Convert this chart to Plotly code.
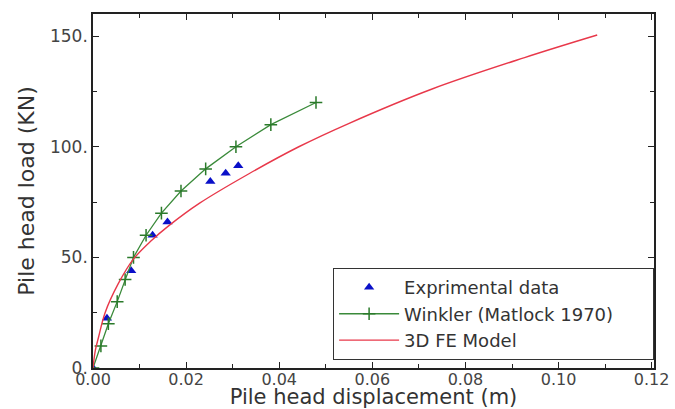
import plotly.graph_objects as go

# Experimental data (blue triangles)
exp_x = [0.0, 0.0030, 0.0082, 0.0128, 0.0160, 0.0252, 0.0285, 0.0312]
exp_y = [0.0, 22.5, 44.0, 60.0, 66.0, 84.3, 88.0, 91.4]

# Winkler (Matlock 1970)
wink_x = [0.0, 0.0017, 0.0033, 0.0052, 0.0069, 0.0087, 0.0114, 0.0147,
          0.0189, 0.0242, 0.0307, 0.0382, 0.0479]
wink_y = [0, 10, 20, 30, 40, 50, 60, 70, 80, 90, 100, 110, 120]

# 3D FE Model
fe_x = [0.0, 0.0005, 0.0012, 0.0026, 0.0054, 0.0086, 0.0125, 0.0161, 0.0229,
        0.0335, 0.0442, 0.0549, 0.0727, 0.0927, 0.1083]
fe_y = [0.0, 8.0, 14.0, 25.0, 38.0, 49.0, 57.5, 64.0, 74.5,
        87.8, 100.0, 110.5, 126.0, 140.3, 150.5]

x_tickvals = [0.0, 0.02, 0.04, 0.06, 0.08, 0.10, 0.12]
x_ticktext = ["0.00", "0.02", "0.04", "0.06", "0.08", "0.10", "0.12"]
y_tickvals = [0, 50, 100, 150]
y_ticktext = ["0.", "50.", "100.", "150."]

PAD = "\u00a0" * 6  # widens the legend box like the reference

fig = go.Figure()
fig.add_trace(go.Scatter(
    x=exp_x, y=exp_y, mode="markers", name="Exprimental data",
    marker=dict(symbol="triangle-up", size=9, color="#0a10c8"),
))
fig.add_trace(go.Scatter(
    x=wink_x, y=wink_y, mode="lines+markers", name="Winkler (Matlock 1970)" + PAD,
    line=dict(color="#3a8a3a", width=1.3),
    marker=dict(symbol="cross-thin", size=9, line=dict(color="#2a7a2a", width=1.5)),
))
fig.add_trace(go.Scatter(
    x=fe_x, y=fe_y, mode="lines", name="3D FE Model",
    line=dict(color="#e8384a", width=1.4, shape="spline", smoothing=1.0),
))

axis_common = dict(
    showgrid=False, zeroline=False, showline=True, linecolor="#222222",
    linewidth=1.5, mirror="ticks", ticks="inside", ticklen=6, tickwidth=1.2,
    tickcolor="#222222",
)

fig.update_xaxes(
    range=[0, 0.1205], tickvals=x_tickvals, ticktext=x_ticktext,
    minor=dict(dtick=0.01, ticks="inside", ticklen=4, tickcolor="#222222"),
    tickfont=dict(family="DejaVu Sans", size=16, color="#444444"),
    title=dict(text="Pile head displacement (m)",
               font=dict(family="DejaVu Sans", size=21, color="#333333"),
               standoff=3),
    ticklabelstandoff=-4,
    automargin=False,
    **axis_common,
)
fig.update_yaxes(
    range=[0, 160], tickvals=y_tickvals, ticktext=y_ticktext,
    minor=dict(dtick=25, ticks="inside", ticklen=4, tickcolor="#222222"),
    tickfont=dict(family="DejaVu Sans", size=17, color="#444444"),
    title=dict(text="Pile head load (KN)",
               font=dict(family="DejaVu Sans", size=22, color="#333333"),
               standoff=9),
    automargin=False,
    **axis_common,
)

fig.update_layout(
    width=675, height=409,
    margin=dict(l=93, r=21, t=14, b=41),
    paper_bgcolor="white", plot_bgcolor="white",
    showlegend=True,
    legend=dict(
        x=0.428, y=0.282, xanchor="left", yanchor="top",
        bgcolor="white", bordercolor="#333333", borderwidth=1,
        font=dict(family="DejaVu Sans", size=18, color="#333333"),
        itemwidth=60, tracegroupgap=0,
    ),
)

fig.write_html("out.html", config={"displayModeBar": False},
               post_script="document.body.style.margin='0';document.body.style.padding='0';")
